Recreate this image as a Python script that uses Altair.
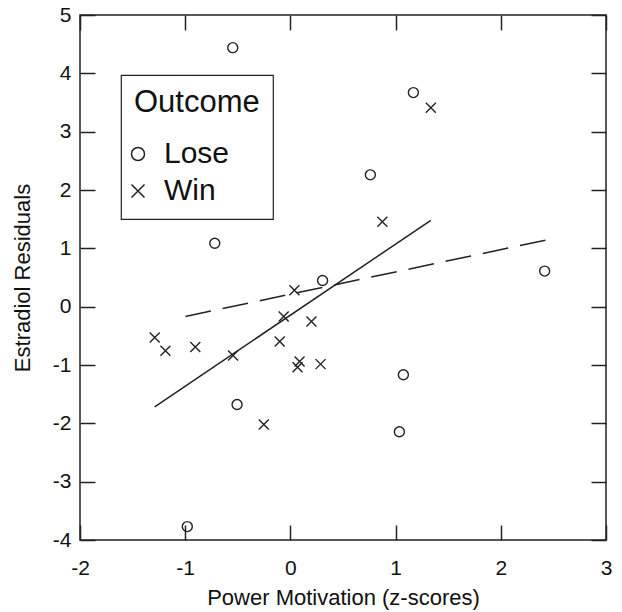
import altair as alt
import pandas as pd

# ---- data ----
lose_x = [-0.548, 1.169, 0.760, -0.719, 0.306, 2.417, 1.074, -0.507, 1.036, -0.980]
lose_y = [4.44, 3.67, 2.26, 1.086, 0.449, 0.61, -1.166, -1.676, -2.145, -3.77]
win_x = [1.335, 0.874, 0.038, -0.064, 0.20, -1.29, -1.188, -0.904, -0.545, -0.102,
         0.087, 0.068, 0.287, -0.253]
win_y = [3.41, 1.454, 0.28, -0.168, -0.255, -0.53, -0.757, -0.69, -0.838, -0.597,
         -0.94, -1.04, -0.985, -2.02]

win_fit_x = [-1.29, 1.335]
win_fit_y = [-1.716, 1.48]
lose_fit_x = [-0.998, 2.424]
lose_fit_y = [-0.168, 1.14]

x_ticks = [-2, -1, 0, 1, 2, 3]
y_ticks = [-4, -3, -2, -1, 0, 1, 2, 3, 4, 5]
outcomes = ["Lose", "Win"]

pts = pd.DataFrame({
    "x": lose_x + win_x,
    "y": lose_y + win_y,
    "Outcome": ["Lose"] * len(lose_x) + ["Win"] * len(win_x),
})
win_fit = pd.DataFrame({"x": win_fit_x, "y": win_fit_y})
lose_fit = pd.DataFrame({"x": lose_fit_x, "y": lose_fit_y})

FONT = "Liberation Sans"
INK = "#222222"
CROSS = "M-1,-1L1,1M-1,1L1,-1"
LABEL = "datum.value < 0 ? '-' + abs(datum.value) : '' + datum.value"

xscale = alt.Scale(domain=[-2, 3], nice=False, zero=False)
yscale = alt.Scale(domain=[-4, 5], nice=False, zero=False)

x_axis = alt.Axis(values=x_ticks, orient="bottom", offset=-15, tickSize=15, domain=False,
                  grid=False, labelExpr=LABEL, labelFlush=False, labelPadding=17,
                  labelFontSize=21, titleFontSize=22, titlePadding=9,
                  title="Power Motivation (z-scores)")
y_axis = alt.Axis(values=y_ticks, orient="left", offset=-15, tickSize=15, domain=False,
                  grid=False, labelExpr=LABEL, labelFlush=False, labelPadding=9,
                  labelFontSize=21, titleFontSize=22, titlePadding=18,
                  title="Estradiol Residuals")

X = alt.X("x:Q", scale=xscale, axis=x_axis)
Y = alt.Y("y:Q", scale=yscale, axis=y_axis)

points = alt.Chart(pts).mark_point(filled=False, size=100, strokeWidth=1.4, color=INK,
                                   opacity=1).encode(
    x=X, y=Y,
    shape=alt.Shape("Outcome:N", scale=alt.Scale(domain=outcomes, range=["circle", CROSS]),
                    legend=alt.Legend(title="Outcome", orient="none",
                                      legendX=41, legendY=60)),
)

solid = alt.Chart(win_fit).mark_line(color=INK, strokeWidth=1.5).encode(x=X, y=Y)
dashed = alt.Chart(lose_fit).mark_line(color=INK, strokeWidth=1.5,
                                       strokeDash=[26, 12]).encode(x=X, y=Y)

main = alt.layer(points, solid, dashed)

mirror = alt.Chart(win_fit).mark_point(opacity=0).encode(
    x=alt.X("x:Q", scale=xscale,
            axis=alt.Axis(values=x_ticks, orient="top", offset=-15, tickSize=15, domain=False,
                          grid=False, labels=False, title=None)),
    y=alt.Y("y:Q", scale=yscale,
            axis=alt.Axis(values=y_ticks, orient="right", offset=-15, tickSize=15, domain=False,
                          grid=False, labels=False, title=None)),
)

chart = alt.layer(main, mirror).resolve_scale(x="independent", y="independent").properties(
    width=526, height=525,
    autosize=alt.AutoSizeParams(type="none"),
    padding={"left": 80, "top": 15, "right": 16, "bottom": 72},
    background="white",
).configure_view(
    stroke=INK, strokeWidth=1.5
).configure_axis(
    labelFont=FONT, titleFont=FONT, labelColor="#111", titleColor="#111",
    labelFontSize=21, titleFontSize=22,
    tickColor=INK, tickWidth=1.5, titleFontWeight="normal",
).configure_legend(
    titleFont=FONT, labelFont=FONT, titleFontSize=31, labelFontSize=30,
    titleFontWeight="normal", titleColor="#111", labelColor="#111",
    strokeColor=INK, strokeWidth=1.2, fillColor="white", padding=13,
    titlePadding=20, rowPadding=7, symbolSize=169, symbolStrokeWidth=1.5,
    symbolStrokeColor=INK, symbolFillColor="transparent", labelOffset=11,
    symbolOffset=-11, cornerRadius=0,
)

chart.save("out.html", embed_options={"renderer": "svg", "actions": False})
